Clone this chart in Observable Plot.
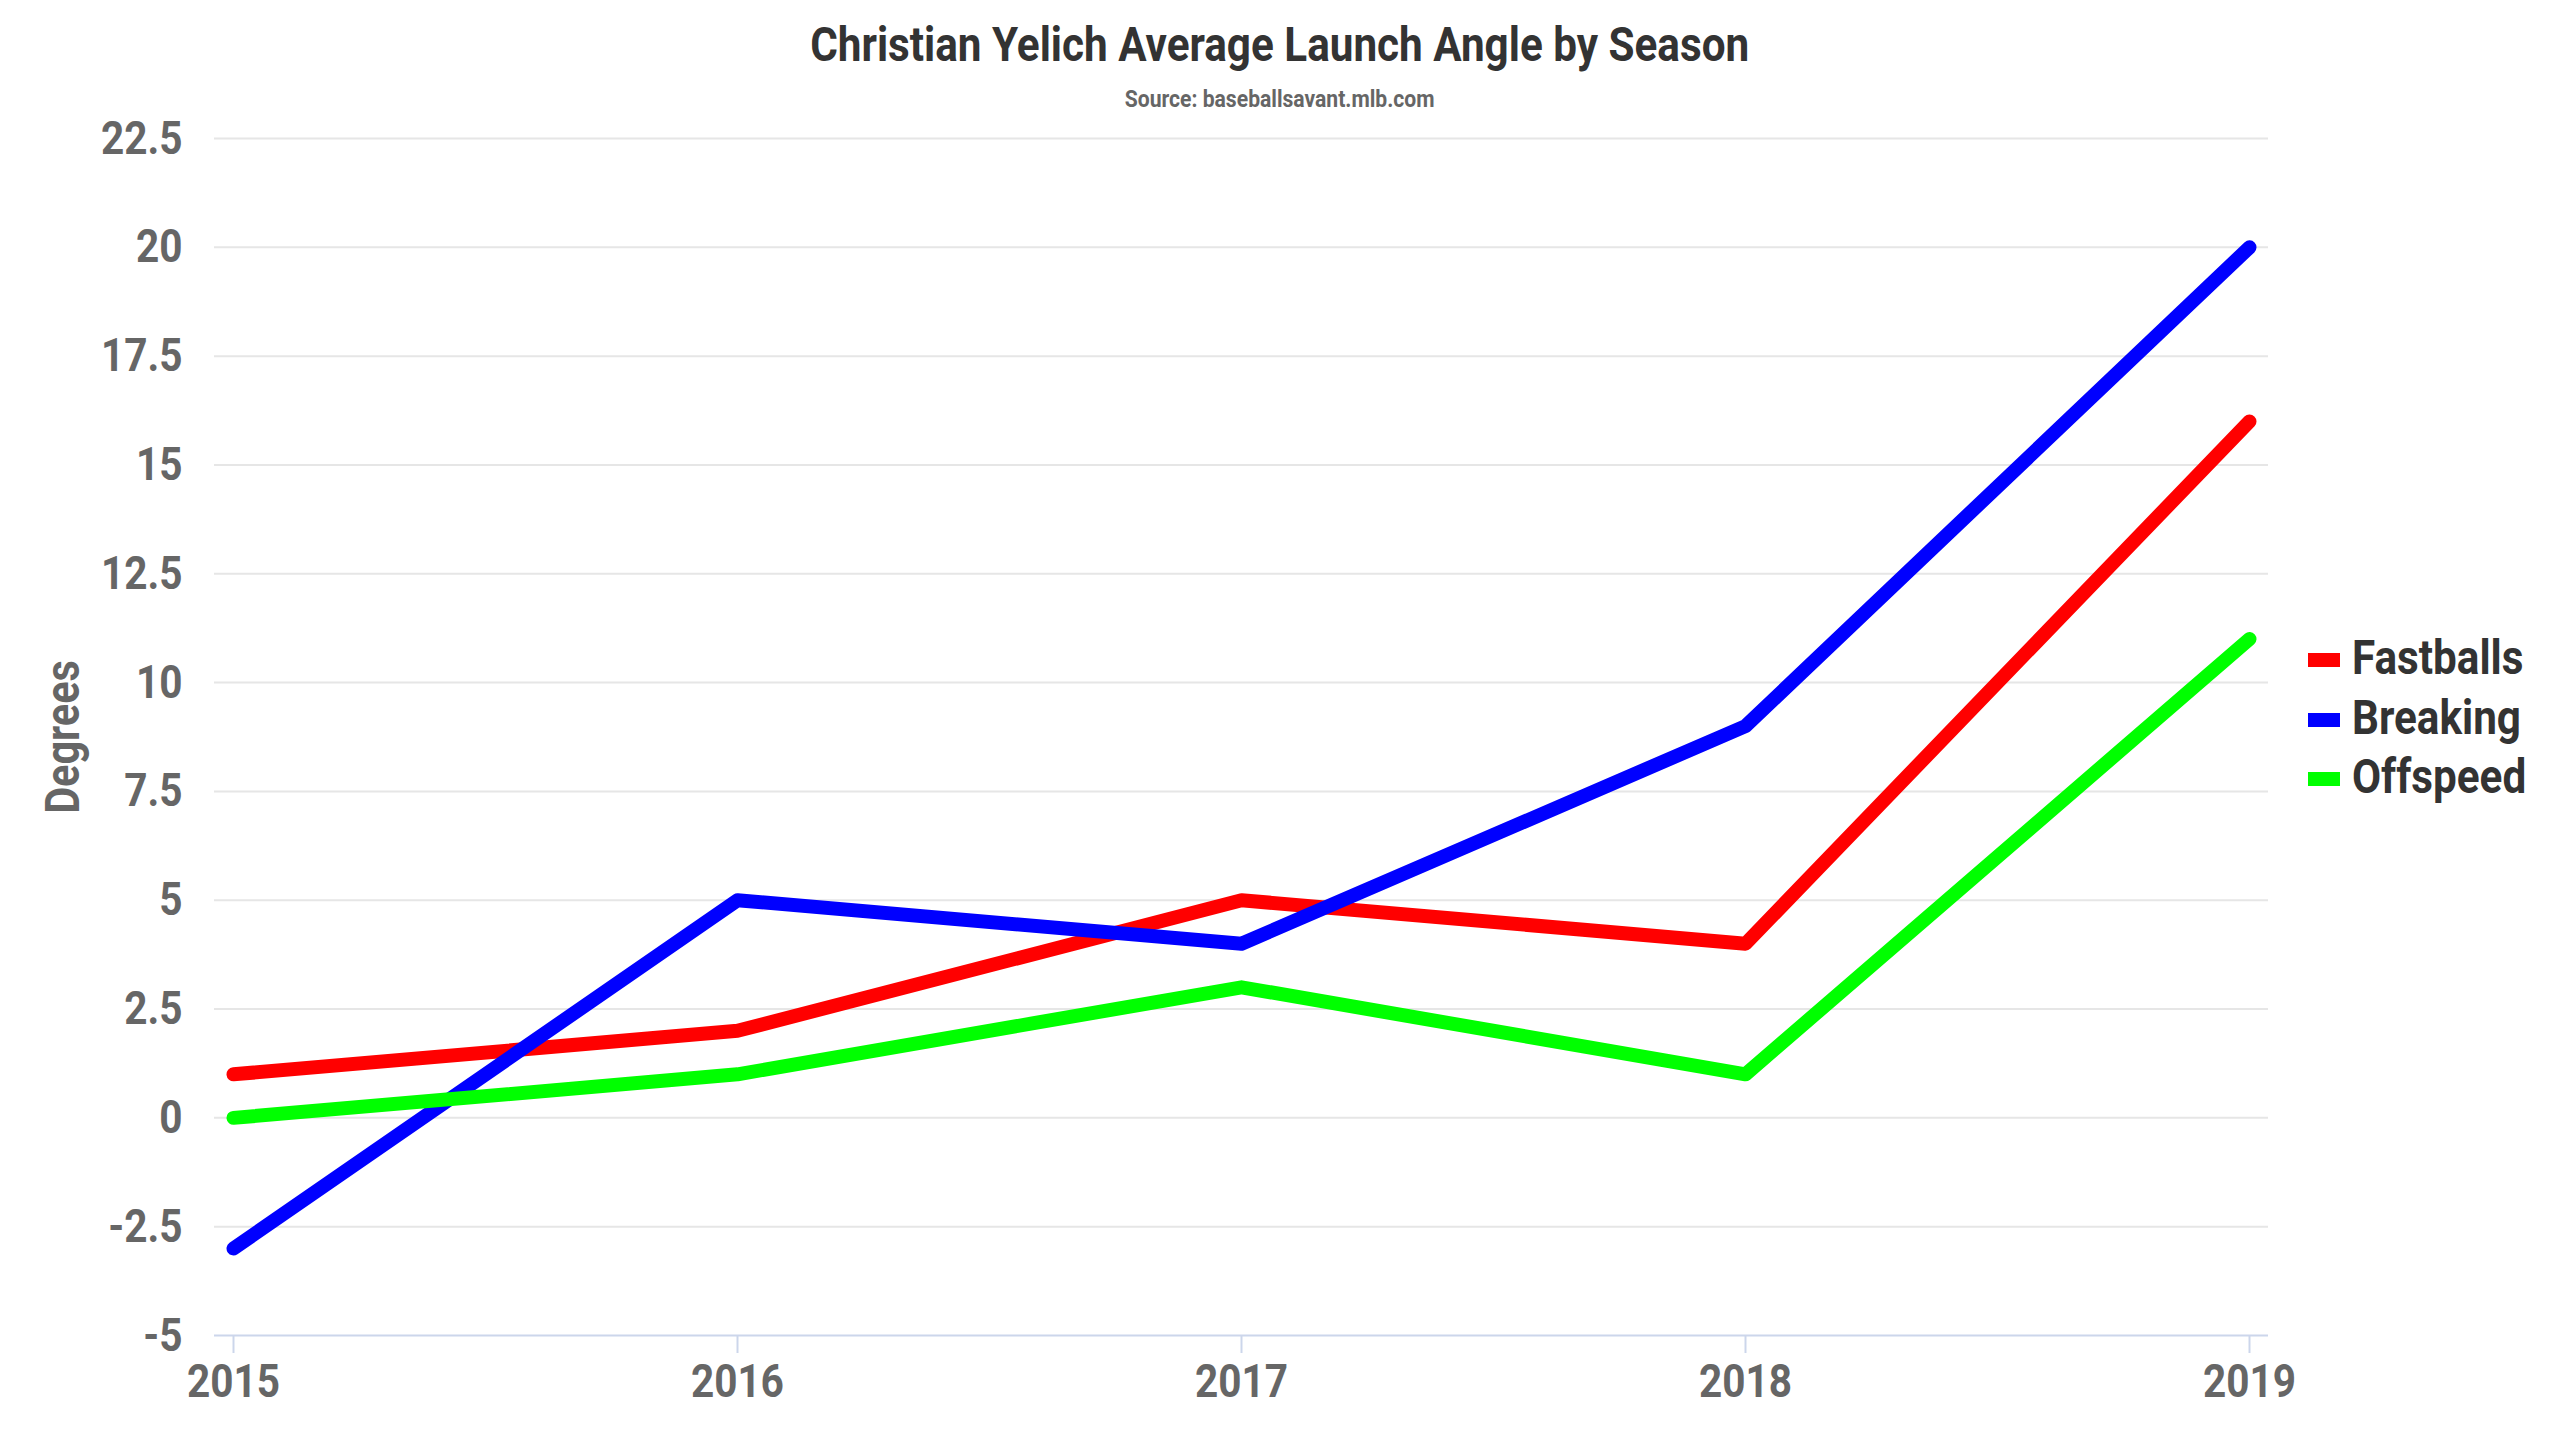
<!DOCTYPE html>
<html>
<head>
<meta charset="utf-8">
<script src="https://cdn.jsdelivr.net/npm/d3@7"></script>
<script src="https://cdn.jsdelivr.net/npm/@observablehq/plot@0.6"></script>
<style>
  html, body { margin:0; padding:0; background:#fff; width:2560px; height:1440px; overflow:hidden; }
  body { font-family: Roboto, "Noto Sans", sans-serif; font-weight: bold; }
  #wrap { position:relative; width:2560px; height:1440px; }
  .hdr { position:absolute; left:0; width:2560px; text-align:center; white-space:nowrap; }
  .hdr span { display:inline-block; transform-origin:center; }
  #title { top:20px; font-size:49px; line-height:49px; color:#333; }
  #subtitle { top:87px; font-size:24.5px; line-height:24.5px; color:#666; }
  #chart { position:absolute; left:0; top:120px; }
  #legend { position:absolute; left:2308px; top:0; }
  .item { position:absolute; left:0; height:49px; white-space:nowrap; }
  .sw { position:absolute; left:0; top:20px; width:32px; height:14px; }
  .lt { position:absolute; left:44px; top:0; font-size:49px; line-height:49px; color:#333; transform-origin:left center; }
</style>
</head>
<body>
<div id="wrap">
  <div id="title" class="hdr"><span></span></div>
  <div id="subtitle" class="hdr"><span></span></div>
  <div id="chart"></div>
  <div id="legend"></div>
</div>
<script>
const titleText = "Christian Yelich Average Launch Angle by Season";
const subtitleText = "Source: baseballsavant.mlb.com";
const yLabel = ["Degrees"];
const years = [2015, 2016, 2017, 2018, 2019];
const seriesNames = ["Fastballs", "Breaking", "Offspeed"];
const seriesColors = ["#ff0000", "#0000ff", "#00ff00"];
const fastballs = [1, 2, 5, 4, 16];
const breaking = [-3, 5, 4, 9, 20];
const offspeed = [0, 1, 3, 1, 11];
const yTicks = [-5, -2.5, 0, 2.5, 5, 7.5, 10, 12.5, 15, 17.5, 20, 22.5];

const seriesValues = [fastballs, breaking, offspeed];
const rows = [];
seriesNames.forEach((s, si) => years.forEach((yr, i) => rows.push({series: s, year: yr, value: seriesValues[si][i]})));

// title
const tEl = document.querySelector("#title span");
tEl.textContent = titleText;
const sEl = document.querySelector("#subtitle span");
sEl.textContent = subtitleText;
const natural = tEl.getBoundingClientRect().width;
const K = Math.min(1, 939 / natural);
tEl.style.transform = `scaleX(${K})`;
sEl.style.transform = `scaleX(${K})`;

const plot = Plot.plot({
  width: 2560,
  height: 1320,
  marginTop: 18,
  marginBottom: 105,
  marginLeft: 214,
  marginRight: 292,
  style: {fontFamily: "Roboto, sans-serif", fontWeight: "bold", fontSize: "46px", color: "#666", background: "transparent", overflow: "visible"},
  x: {type: "linear", domain: [years[0], years[years.length - 1]], inset: 19},
  y: {type: "linear", domain: [yTicks[0], yTicks[yTicks.length - 1]]},
  color: {domain: seriesNames, range: seriesColors},
  marks: [
    Plot.gridY(yTicks.slice(1), {stroke: "#e6e6e6", strokeOpacity: 1, strokeWidth: 2}),
    Plot.ruleY([yTicks[0]], {stroke: "#ccd6eb", strokeWidth: 2}),
    Plot.axisX({ticks: years, tickFormat: d => String(d), tickSize: 18, tickPadding: 10, stroke: "#ccd6eb", strokeWidth: 2, fill: "#666", fontSize: 47, label: null}),
    Plot.axisY({ticks: yTicks, tickFormat: d => String(d), tickSize: 0, tickPadding: 32, fill: "#666", fontSize: 47, label: null}),
    Plot.text(yLabel, {frameAnchor: "left", rotate: -90, dx: -136, textAnchor: "middle", lineAnchor: "bottom", fontSize: 48, fill: "#666", fontWeight: "bold"}),
    Plot.line(rows, {x: "year", y: "value", z: "series", stroke: "series", strokeWidth: 14, strokeLinecap: "round", strokeLinejoin: "round"})
  ]
});
document.getElementById("chart").appendChild(plot);

// emulate a condensed face by compressing glyphs along the text direction
plot.querySelectorAll("text").forEach(t => {
  const targets = t.querySelectorAll("tspan").length ? t.querySelectorAll("tspan") : [t];
  targets.forEach(el => {
    const len = el.getComputedTextLength();
    if (len > 0) {
      el.setAttribute("textLength", (len * K).toFixed(2));
      el.setAttribute("lengthAdjust", "spacingAndGlyphs");
    }
  });
});

const legend = document.getElementById("legend");
seriesNames.forEach((s, i) => {
  const item = document.createElement("div");
  item.className = "item";
  item.style.top = (633 + i * 59.5) + "px";
  const sw = document.createElement("div");
  sw.className = "sw";
  sw.style.background = seriesColors[i];
  const lt = document.createElement("div");
  lt.className = "lt";
  lt.textContent = s;
  lt.style.transform = `scaleX(${K})`;
  item.appendChild(sw); item.appendChild(lt);
  legend.appendChild(item);
});
</script>
</body>
</html>
